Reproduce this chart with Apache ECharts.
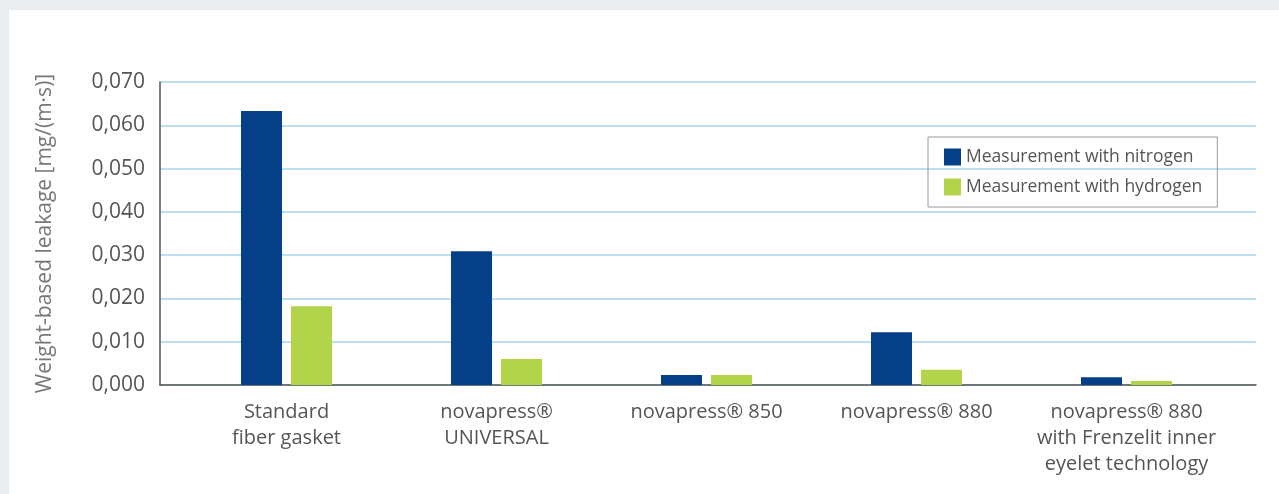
<!DOCTYPE html>
<html>
<head>
<meta charset="utf-8">
<script src="https://cdn.jsdelivr.net/npm/echarts@6/dist/echarts.min.js"></script>
<style>
  html, body { margin: 0; padding: 0; background: #e9edf0; }
  #main { position: absolute; left: 9px; top: 10px; width: 1270px; height: 484px; background: #fff; }
</style>
</head>
<body>
<div id="main"></div>
<script>
// data
var categories = ['Standard\nfiber gasket', 'novapress®\nUNIVERSAL', 'novapress® 850', 'novapress® 880', 'novapress® 880\nwith Frenzelit inner\neyelet technology'];
var nitrogen = [0.0633, 0.0309, 0.0023, 0.0122, 0.0018];
var hydrogen = [0.0182, 0.0060, 0.0023, 0.0035, 0.0009];
var seriesNames = ['Measurement with nitrogen', 'Measurement with hydrogen'];

var font = '"Open Sans", "Noto Sans", sans-serif';
var chart = echarts.init(document.getElementById('main'));

var option = {
    textStyle: { fontFamily: font },
    legend: {
        orient: 'vertical',
        left: 919, top: 127,
        padding: [11, 15, 11, 16],
        itemWidth: 17, itemHeight: 17, itemGap: 12,
        borderColor: '#9a9a9a', borderWidth: 1,
        icon: 'rect',
        textStyle: { fontFamily: font, fontSize: 17.5, color: '#555' },
        data: seriesNames
    },
    grid: [
        { left: 151, top: 72, width: 1096, height: 303 },
        { left: 172.5, top: 72, width: 1050, height: 303 }
    ],
    xAxis: [
        {
            type: 'category', gridIndex: 0, data: categories,
            axisLine: { lineStyle: { color: '#555', width: 1.5 } },
            axisTick: { show: false }, axisLabel: { show: false }
        },
        {
            type: 'category', gridIndex: 1, data: categories,
            axisLine: { show: false }, axisTick: { show: false },
            axisLabel: { margin: 14, fontSize: 20, lineHeight: 26, color: '#555', fontFamily: font, interval: 0 }
        }
    ],
    yAxis: [
        {
            type: 'value', gridIndex: 0, min: 0, max: 0.07, interval: 0.01,
            name: 'Weight-based leakage [mg/(m·s)]', nameLocation: 'middle', nameGap: 104,
            nameTextStyle: { fontSize: 21, color: '#777', fontFamily: font },
            axisLine: { show: true, lineStyle: { color: '#555', width: 1.5 } },
            axisTick: { show: false },
            axisLabel: {
                margin: 15, fontSize: 21, color: '#555', fontFamily: font,
                formatter: function (v) { return v.toFixed(3).replace('.', ','); }
            },
            splitLine: { lineStyle: { color: '#a9d5e7', width: 1.5 } }
        },
        {
            type: 'value', gridIndex: 1, min: 0, max: 0.07, interval: 0.01,
            axisLine: { show: false }, axisTick: { show: false },
            axisLabel: { show: false }, splitLine: { show: false }
        }
    ],
    series: [
        {
            name: seriesNames[0], type: 'bar', xAxisIndex: 1, yAxisIndex: 1,
            data: nitrogen, barWidth: 41, barGap: '22%',
            itemStyle: { color: '#043f88' }
        },
        {
            name: seriesNames[1], type: 'bar', xAxisIndex: 1, yAxisIndex: 1,
            data: hydrogen, barWidth: 41, barGap: '22%',
            itemStyle: { color: '#b2d44a' }
        }
    ]
};

chart.setOption(option);
</script>
</body>
</html>
